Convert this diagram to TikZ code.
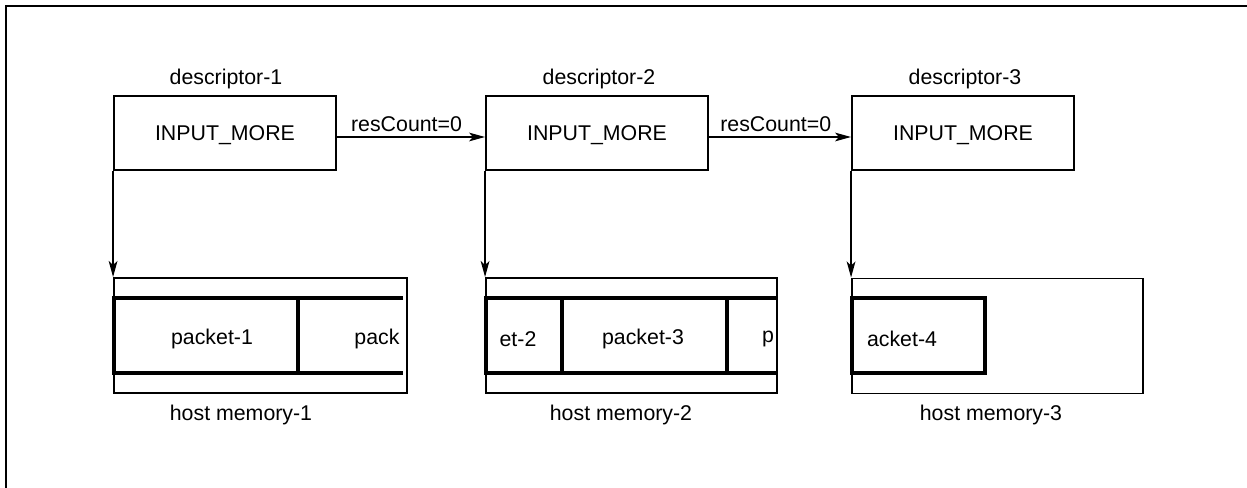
\documentclass[tikz,border=0pt]{standalone}
\usepackage{fontspec}
\setmainfont{Liberation Sans}
\usetikzlibrary{arrows.meta}
\begin{document}
\begin{tikzpicture}[x=0.75pt,y=-0.75pt,
  thin/.style={line width=1.4pt},
  thick band/.style={line width=3pt},
  desc/.style={draw,thin,minimum width=166.5pt,minimum height=55.5pt,inner sep=0pt,text depth=0pt,font=\fontsize{16}{19}\selectfont},
  mem/.style={draw,thin,minimum height=86.25pt,inner sep=0pt},
  lbl/.style={inner sep=0pt,font=\fontsize{16}{19}\selectfont},
  arr/.style={thin,-{Stealth[length=12pt,width=6.5pt,inset=3pt]}}]
\useasboundingbox (0,0) rectangle (1247,488);
% outer frame (top and left visible)
\draw[line width=1.6pt] (6,488) -- (6,6) -- (1247,6);

% descriptors
\node[desc] (d1) at (225,133) {INPUT\_MORE};
\node[desc] (d2) at (597,133) {INPUT\_MORE};
\node[desc] (d3) at (963,133) {INPUT\_MORE};
\node[lbl] (t1) at (226,79) {descriptor-1};
\node[lbl] (t2) at (599,79) {descriptor-2};
\node[lbl] (t3) at (965,79) {descriptor-3};

% host memories
\node[mem,minimum width=219.75pt] (m1) at (260.5,335.5) {};
\node[mem,minimum width=218.25pt] (m2) at (631.5,335.5) {};
\node[mem,minimum width=218.25pt] (m3) at (997.5,336) {};
\node[lbl] (h1) at (241,415) {host memory-1};
\node[lbl] (h2) at (621,415) {host memory-2};
\node[lbl] (h3) at (991,415) {host memory-3};

% packet bands
\draw[thick band] (403,298) -- (114,298) -- (114,373) -- (403,373);
\draw[thick band] (298,298) -- (298,373);
\draw[thick band] (777,298) -- (486,298) -- (486,373) -- (777,373);
\draw[thick band] (562,298) -- (562,373);
\draw[thick band] (727,298) -- (727,373);
\draw[thick band] (852,298) rectangle (985,373);

\node[lbl] (p1) at (212,339) {packet-1};
\node[lbl] (p2a) at (377,339) {pack};
\node[lbl] (p2b) at (518,339) {et-2};
\node[lbl] (p3) at (643,339) {packet-3};
\node[lbl] (p4a) at (768,339) {p};
\node[lbl] (p4b) at (902,339) {acket-4};

% connectors
\draw[arr] ([yshift=-3pt]d1.east) -- node[lbl,above=3pt,pos=0.47] (r1) {resCount=0} ([yshift=-3pt]d2.west);
\draw[arr] ([yshift=-3pt]d2.east) -- node[lbl,above=3pt,pos=0.47] (r2) {resCount=0} ([yshift=-3pt]d3.west);
\draw[arr] (d1.south west) -- (m1.north west);
\draw[arr] (d2.south west) -- (m2.north west);
\draw[arr] (d3.south west) -- (m3.north west);
\end{tikzpicture}
\end{document}
